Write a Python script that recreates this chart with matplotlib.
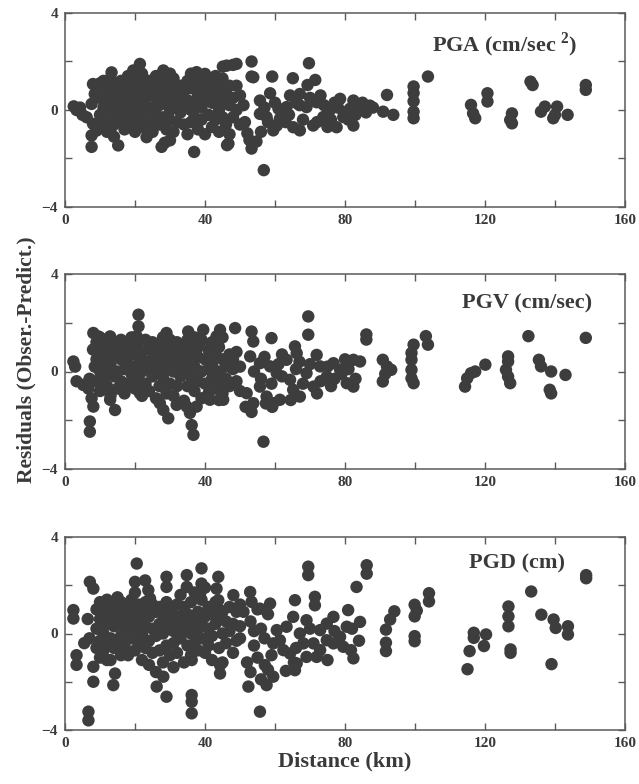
import matplotlib
matplotlib.use("Agg")
import matplotlib.pyplot as plt
import numpy as np

plt.rcParams['font.family'] = ['Liberation Serif', 'DejaVu Serif']
plt.rcParams['font.weight'] = 'bold'
plt.rcParams['mathtext.fontset'] = 'custom'
plt.rcParams['mathtext.rm'] = 'Liberation Serif:bold'
plt.rcParams['mathtext.bf'] = 'Liberation Serif:bold'

# ---------------- data: (distance km, residual) ----------------
pga_points = [
    # near-source and core (0-52 km)
    (3.3, 0.0), (4.3, 0.1), (6.2, -0.3), (5.0, -0.2), (2.5, 0.15),
    (8.0, 1.07), (8.5, 0.66), (7.6, 0.25), (8.0, -0.57), (7.6, -1.05), (7.6, -1.52), (9.0, -0.85),
    (13.3, 1.55), (21.4, 1.9), (19.5, 1.63), (28.1, 1.63), (30.0, 1.5), (37.6, 1.56), (40.0, 1.49),
    (46.2, 1.83), (49.0, 1.9), (53.8, 1.35),
    (15.2, -1.46), (27.6, -1.52), (30.0, -1.25), (36.9, -1.73), (46.7, -1.39), (23.3, -1.12),
    (28.5, -1.35), (14.0, -1.1), (13.0, -0.8),
    (10, 1.1), (10, 0.5), (10, -0.2), (10, -0.7),
    (11, 0.8), (11, 0.1), (11, -0.5), (11, 1.2),
    (12, 0.3), (12, -0.9), (12, 0.9),
    (13, 0.6), (13, -0.3), (13, 1.3),
    (14, 0.0), (14, 0.9), (14, -0.6),
    (15, 1.0), (15, 0.4), (15, -0.2),
    (16, 0.7), (16, -0.5), (16, 0.2), (16, 1.2),
    (17, 0.0), (17, 0.9), (17, -0.8),
    (18, 0.5), (18, -0.3), (18, 1.4),
    (19, 0.2), (19, 1.0), (19, -0.6),
    (20, 0.8), (20, -0.1), (20, 1.3), (20, -0.9),
    (21, 0.4), (21, 1.1), (21, -0.4),
    (22, 0.0), (22, 0.7), (22, -0.7), (22, 1.5),
    (23, 0.9), (23, 0.2), (23, -0.3),
    (24, 0.6), (24, -0.5), (24, 1.2),
    (25, 0.1), (25, 0.9), (25, -0.9),
    (26, 0.5), (26, -0.2), (26, 1.4),
    (27, 1.0), (27, 0.2), (27, -0.6),
    (28, 0.7), (28, -0.3), (28, 1.3),
    (29, 0.3), (29, -0.8), (29, 0.9),
    (30, 1.1), (30, 0.0), (30, -0.4),
    (31, 0.6), (31, -0.9), (31, 1.3),
    (32, 0.2), (32, 0.9), (32, -0.5),
    (33, 0.5), (33, -0.1), (33, 1.0),
    (34, 0.8), (34, -0.6), (34, 0.1),
    (35, 0.4), (35, -1.0), (35, 1.2),
    (36, 0.9), (36, 0.0), (36, -0.5), (36, 1.5),
    (37, 0.3), (37, -0.3), (37, 1.0),
    (38, 0.6), (38, -0.8), (38, 1.4),
    (39, 0.1), (39, -0.4), (39, 0.9),
    (40, 0.5), (40, -1.0), (40, 1.2),
    (41, 0.8), (41, -0.2),
    (42, 0.3), (42, -0.7), (42, 1.1),
    (43, 0.6), (43, -0.4), (43, 1.4),
    (44, 0.0), (44, 0.9), (44, -0.9),
    (45, 0.4), (45, -0.3), (45, 1.3),
    (46, 0.8), (46, -0.6),
    (47, 0.2), (47, 1.0), (47, -1.0),
    (48, 0.5), (48, -0.3),
    (49, 1.0), (49, 0.0),
    (50, 0.6), (50, -0.6), (51, 0.2),
    # middle range outliers
    (53.3, 2.0), (53.3, 1.38), (48.0, 1.86), (45.1, 1.79), (59.2, 1.38), (58.6, 0.69),
    (69.7, 1.93), (65.1, 1.31), (71.5, 1.24), (69.3, 1.03), (56.8, -2.48), (52.7, -1.24),
    (53.3, -1.59), (52.1, -0.96), (46.3, -1.45), (54.7, -1.3),
    # middle band
    (51.4, -0.5), (55.7, 0.39), (57.6, -0.29), (60.5, -0.64), (63.3, 0.12), (65.2, -0.71),
    (67.1, -0.84), (69.0, 0.12), (71.9, 0.32), (73.8, -0.29), (75.7, 0.0), (78.6, 0.46),
    (79.5, -0.29), (82.4, 0.39), (82.4, -0.64), (84.3, 0.0), (87.1, 0.18), (67.1, 0.66),
    (64.3, 0.6), (55.7, -0.16), (59.5, -0.84), (61.4, -0.36), (70.9, -0.64), (77.6, -0.71),
    (81.4, 0.05), (57, 0.1), (62, -0.2), (66, 0.3), (68, -0.4), (72, -0.5), (74, 0.2),
    (76, -0.4), (78, 0.1), (80, -0.1), (83, -0.2), (85, 0.3), (86, -0.1), (60, 0.3),
    (63, -0.5), (70, 0.5), (73, 0.6), (77, 0.3), (81, -0.4), (88, 0.1), (56, -0.9),
    (58, -0.5), (61, 0.05), (64, -0.2), (67, 0.2), (75, -0.7),
    # far distances
    (92.0, 0.62), (90.9, -0.07), (93.8, -0.2),
    (99.6, 0.97), (99.6, 0.70), (99.6, 0.36), (99.6, -0.07), (99.6, -0.34),
    (103.7, 1.38),
    (116.0, 0.21), (116.6, -0.14), (117.2, -0.34),
    (120.7, 0.69), (120.7, 0.35),
    (127.7, -0.14), (127.2, -0.41), (127.7, -0.55),
    (133.0, 1.17), (133.6, 1.03),
    (136.0, -0.07), (137.1, 0.14), (139.5, -0.34), (140.0, -0.2), (140.6, 0.14), (143.6, -0.2),
    (148.8, 1.03), (148.8, 0.83),
]

pgv_points = [
    (2.4, 0.41), (2.9, 0.2), (3.3, -0.4), (5.2, -0.55), (6.7, -0.7), (8.1, 1.58), (9.5, 1.44),
    (7.6, -1.1), (8.1, -1.44), (7.1, -2.05), (7.1, -2.47), (8.0, 0.9), (8.5, 0.2), (7.0, -0.3),
    (21.0, 2.33), (21.0, 1.85), (20.5, 1.44), (14.3, -1.58), (12.9, -1.16), (29.5, -1.92),
    (28.1, -1.58), (27.1, -1.3), (36.2, -2.2), (36.7, -2.6), (35.7, -1.7), (48.6, 1.78),
    (53.3, 1.64), (53.8, 1.23), (59.0, 1.37), (56.7, -2.88), (69.5, 2.26), (69.5, 1.51),
    (65.7, 1.03), (66.2, 0.75), (71.9, 0.68),
    (29.0, 1.58), (35.2, 1.64), (39.5, 1.71), (44.3, 1.71), (43.3, 1.44), (12.9, 1.44), (30.0, 1.3),
    (21.4, -0.89), (31.9, -1.37), (34.8, -1.44), (37.6, -1.44), (41.4, -1.16), (45.2, -1.16),
    (9, 1.2), (9, 0.5), (9, -0.4),
    (10, 0.9), (10, 0.0), (10, -0.8), (10, 1.4),
    (11, 0.4), (11, -0.3), (11, 1.0),
    (12, 0.7), (12, -0.6), (12, 0.1),
    (13, 1.2), (13, 0.3), (13, -1.0),
    (14, 0.6), (14, -0.2), (14, 1.0),
    (15, 0.0), (15, 0.9), (15, -0.7),
    (16, 0.5), (16, -0.4), (16, 1.3),
    (17, 0.8), (17, 0.1), (17, -0.9),
    (18, 0.3), (18, 1.1), (18, -0.5),
    (19, 0.7), (19, -0.1), (19, 1.4),
    (20, 0.2), (20, 1.0), (20, -0.7),
    (21, 0.6), (21, -0.3), (21, 1.2),
    (22, 0.0), (22, 0.8), (22, -1.0),
    (23, 0.4), (23, 1.3), (23, -0.5),
    (24, 0.9), (24, 0.1), (24, -0.8),
    (25, 0.5), (25, -0.2), (25, 1.2),
    (26, 0.8), (26, 0.0), (26, -1.1),
    (27, 0.3), (27, 1.1), (27, -0.6),
    (28, 0.7), (28, -0.2), (28, 1.4),
    (29, 0.1), (29, 0.9), (29, -0.9),
    (30, 0.5), (30, -0.5), (30, 1.1),
    (31, 0.8), (31, 0.0), (31, -1.0),
    (32, 0.3), (32, 1.2), (32, -0.6),
    (33, 0.6), (33, -0.2), (33, 1.0),
    (34, 0.0), (34, 0.9), (34, -1.2),
    (35, 0.4), (35, 1.3), (35, -0.6),
    (36, 0.8), (36, -0.2), (36, 1.1),
    (37, 0.2), (37, -0.8), (37, 1.4),
    (38, 0.6), (38, -0.4), (38, 1.0),
    (39, 0.0), (39, 1.3), (39, -1.1),
    (40, 0.5), (40, -0.5),
    (41, 0.9), (41, 0.1), (41, -0.9),
    (42, 0.3), (42, 1.2), (42, -0.3),
    (43, 0.7), (43, -0.7),
    (44, 0.0), (44, 1.0), (44, -0.4),
    (45, 0.5), (45, 1.4), (45, -0.9),
    (46, 0.2), (46, -0.3),
    (47, 0.7), (47, -0.6),
    (48, 0.1), (48, 0.5),
    (49, -0.4), (49, 0.8),
    (50, 0.2), (50, -0.8),
    (45.7, -0.55), (44.0, -1.17),
    # middle band
    (52.9, 0.62), (55.7, 0.34), (58.6, 0.21), (60.5, -0.07), (63.3, 0.48), (64.3, -0.34),
    (65.2, -0.75), (67.1, -1.03), (69.0, -0.07), (71.0, -0.62), (72.9, 0.21), (74.8, -0.21),
    (76.7, 0.34), (78.6, 0.07), (80.5, -0.48), (82.4, -0.62), (82.4, 0.48), (84.3, 0.41),
    (57.6, -1.03), (59.5, -1.3), (53.8, -1.3), (51.9, -0.89), (55.7, -0.62), (61.4, -1.16),
    (51.6, -1.45), (53.3, -1.66), (57.4, -1.31), (59.2, -1.45), (64.5, -1.17),
    (54, 0.0), (56, -0.3), (57, 0.6), (59, -0.5), (61, 0.3), (62, -0.2), (66, 0.1),
    (68, -0.5), (70, 0.3), (73, -0.4), (75, 0.2), (77, -0.3), (79, -0.1), (81, 0.1),
    (83, -0.3), (62, 0.7), (67, 0.4), (72, -0.9), (76, -0.6), (80, 0.5),
    # far distances
    (86.1, 1.52), (86.1, 1.31), (90.8, 0.48), (92.0, 0.21), (93.2, 0.07), (90.8, -0.41), (91.5, -0.1),
    (99.6, 1.1), (99.0, 0.76), (99.0, 0.48), (99.0, 0.07), (99.0, -0.28), (99.6, -0.48),
    (103.1, 1.45), (103.7, 1.1),
    (114.3, -0.62), (114.9, -0.28), (116.0, -0.07), (117.2, 0.0), (120.1, 0.28),
    (126.6, 0.62), (126.6, 0.41), (126.0, 0.07), (126.6, -0.21), (127.2, -0.48),
    (132.4, 1.45), (135.4, 0.48), (136.0, 0.21), (138.9, 0.0), (138.9, -0.9), (138.5, -0.75),
    (143.0, -0.14), (148.8, 1.38),
]

pgd_points = [
    (2.4, 0.97), (2.4, 0.62), (3.3, -0.9), (3.3, -1.3),
    (7.1, 2.14), (8.1, 1.86), (8.1, -1.38), (8.1, -2.0), (6.7, -3.24), (6.7, -3.6),
    (5.5, -0.4), (6.5, 0.6), (7.0, -0.2),
    (13.8, -2.14), (14.3, -1.66), (12.0, -1.1),
    (20.5, 2.9), (20.0, 2.14), (22.9, 2.2), (23.8, 1.8), (24.3, 1.45),
    (26.2, -2.2), (29.0, -2.62), (28.1, -1.79),
    (29.0, 2.35), (29.0, 1.93), (34.8, 2.42), (34.8, 1.93), (39.0, 2.7), (39.0, 2.07),
    (38.6, 1.66), (43.8, 2.35), (43.3, 1.86), (43.8, 1.38),
    (36.2, -2.55), (36.2, -2.83), (36.2, -3.31),
    (36.2, -1.1), (44.3, -1.66), (44.3, -1.31),
    (48.1, 1.59), (52.9, 1.72), (53.3, 1.31), (58.6, 1.24), (55.7, 1.03),
    (52.4, -2.2), (55.7, -3.24), (57.6, -2.14), (59.5, -1.79), (57.1, -1.31), (50.0, -0.2),
    (65.7, 1.38), (71.4, 1.52), (71.4, 1.17), (69.0, -0.97), (66.2, -1.24), (65.7, -1.52),
    (64.3, -0.83), (83.3, 1.93), (80.9, 0.97), (84.3, 0.48), (81.7, -0.69), (82.4, -1.03),
    (86.2, 2.83), (86.2, 2.48), (69.5, 2.77), (69.5, 2.42),
    (9, 1.0), (9, 0.2), (9, -0.6),
    (10, 1.3), (10, 0.6), (10, -0.3), (10, -1.0),
    (11, 0.9), (11, 0.0), (11, -0.7),
    (12, 1.4), (12, 0.4), (12, -0.5),
    (13, 0.7), (13, -0.2), (13, 1.2), (13, -1.1),
    (14, 0.3), (14, 1.0), (14, -0.6),
    (15, 1.5), (15, 0.5), (15, -0.3),
    (16, 0.9), (16, -0.1), (16, 1.3), (16, -0.9),
    (17, 0.2), (17, 0.8), (17, -0.5),
    (18, 1.1), (18, 0.4), (18, -0.9),
    (19, 0.6), (19, -0.2), (19, 1.4),
    (20, 0.1), (20, 0.9), (20, -0.7), (20, 1.7),
    (21, 0.5), (21, 1.2), (21, -0.4),
    (22, 0.8), (22, 0.0), (22, -1.1),
    (23, 1.3), (23, 0.3), (23, -0.6),
    (24, 0.7), (24, -0.3), (24, 1.0), (24, -1.3),
    (25, 0.2), (25, 1.2), (25, -0.8),
    (26, 0.9), (26, -0.1), (26, -1.6),
    (27, 0.4), (27, 1.1), (27, -0.7),
    (28, 0.8), (28, 0.0), (28, -1.2),
    (29, 1.3), (29, 0.3), (29, -0.5),
    (30, 0.6), (30, -0.9), (30, 1.0),
    (31, 0.1), (31, 0.8), (31, -0.4), (31, -1.4),
    (32, 1.2), (32, 0.4), (32, -0.8),
    (33, 0.7), (33, -0.2), (33, 1.6),
    (34, 0.2), (34, -1.2), (34, 1.1),
    (35, 0.8), (35, -0.5), (35, 0.4),
    (36, 1.3), (36, 0.0), (36, -0.9),
    (37, 0.6), (37, -0.4), (37, 1.7),
    (38, 0.9), (38, 0.2), (38, -0.7),
    (39, 1.4), (39, -0.2), (39, 0.5),
    (40, 0.7), (40, -0.8), (40, 1.9),
    (41, 0.2), (41, 1.1), (41, -0.5),
    (42, 0.8), (42, -0.1), (42, -1.1),
    (43, 1.3), (43, 0.4),
    (44, 0.6), (44, -0.6), (44, 1.0),
    (45, 0.0), (45, -1.2), (45, 0.9),
    (46, 0.5), (46, -0.4),
    (47, 1.1), (47, 0.1),
    (48, 0.4), (48, -0.8),
    (49, 0.9), (49, -0.3),
    (50, 0.3), (50, 1.2),
    # middle band
    (60.5, 0.14), (61.4, -0.28), (63.3, 0.28), (65.2, 0.69), (67.1, 0.0), (69.0, 0.55),
    (71.0, -0.41), (72.9, 0.14), (74.8, 0.41), (76.7, 0.69), (78.6, -0.14), (80.5, 0.28),
    (79.5, -0.55), (72.9, -0.69), (71.9, -0.97), (68.1, -0.41), (62.4, -0.69), (59.5, -0.41),
    (74.8, -0.28), (76.7, -0.41), (75.0, -1.1), (63.1, -1.55), (65.4, -1.2),
    (53, 0.5), (54, -0.5), (55, -1.0), (56, 0.2), (57, -0.2), (58, 0.8), (59, -0.9),
    (52, -1.2), (55, 1.0), (53, -1.6), (56, -1.9), (58, -1.5), (51, 0.9), (54, 0.1),
    (66, -0.6), (70, 0.2), (77, 0.1), (82, 0.2), (84, -0.3),
    # far distances
    (91.7, 0.16), (91.7, -0.38), (91.7, -0.73), (92.9, 0.58), (94.1, 0.92),
    (99.9, 1.19), (99.9, 0.71), (99.9, -0.11), (99.9, -0.32), (100.5, 0.95),
    (104.0, 1.67), (104.0, 1.33),
    (115.0, -1.48), (115.6, -0.73), (116.8, -0.18), (116.8, 0.03), (119.7, -0.52), (120.3, -0.04),
    (126.7, 1.12), (126.7, 0.71), (126.7, 0.3), (127.3, -0.66), (127.3, -0.8),
    (133.2, 1.74), (136.1, 0.78), (139.0, -1.27), (139.6, 0.58), (140.2, 0.23),
    (143.7, 0.3), (143.7, -0.04), (148.9, 2.42), (148.9, 2.29),
]

panel_titles = ['PGA (cm/sec$^{\\ 2}$)', 'PGV (cm/sec)', 'PGD (cm)']
x_ticks = [0, 40, 80, 120, 160]
y_ticks = [-4, 0, 4]

# ---------------- figure ----------------
fig = plt.figure(figsize=(6.39, 7.84), dpi=100)
W, H = 639.0, 784.0
left = 65 / W
width = 560 / W
panels = [(13, 207), (274, 469), (537, 730)]
title_pos = [(0.786, 0.835), (0.826, 0.851), (0.807, 0.865)]
all_points = [pga_points, pgv_points, pgd_points]
dot_color = '#3d3d3d'
axis_color = '#5a5a5a'
text_color = '#3a3a3a'

for i, (top, bot) in enumerate(panels):
    ax = fig.add_axes([left, 1 - bot / H, width, (bot - top) / H])
    pts = np.array(all_points[i])
    ax.scatter(pts[:, 0], pts[:, 1], s=80, color=dot_color, edgecolors='none', zorder=3)
    ax.set_xlim(0, 160)
    ax.set_ylim(-4, 4)
    ax.set_xticks(x_ticks)
    ax.set_xticks([20, 60, 100, 140], minor=True)
    ax.set_yticks(y_ticks)
    ax.set_yticks([-2, 2], minor=True)
    ax.tick_params(which='both', direction='in', top=True, right=True,
                   length=5, width=1, color=axis_color, labelsize=11, pad=5)
    for lab in ax.get_xticklabels() + ax.get_yticklabels():
        lab.set_fontweight('bold')
        lab.set_color(text_color)
    for sp in ax.spines.values():
        sp.set_color(axis_color)
        sp.set_linewidth(1.1)
    ax.text(title_pos[i][0], title_pos[i][1], panel_titles[i], transform=ax.transAxes,
            ha='center', va='center', fontsize=16, fontweight='bold', color=text_color)
    if i == 2:
        ax.set_xlabel('Distance (km)', fontsize=16, fontweight='bold', color=text_color, labelpad=1)

fig.text(26 / W, 1 - 360 / H, 'Residuals (Obser.-Predict.)', rotation=90,
         ha='center', va='center', fontsize=15.5, fontweight='bold', color=text_color)

fig.savefig('out.png', dpi=100)
